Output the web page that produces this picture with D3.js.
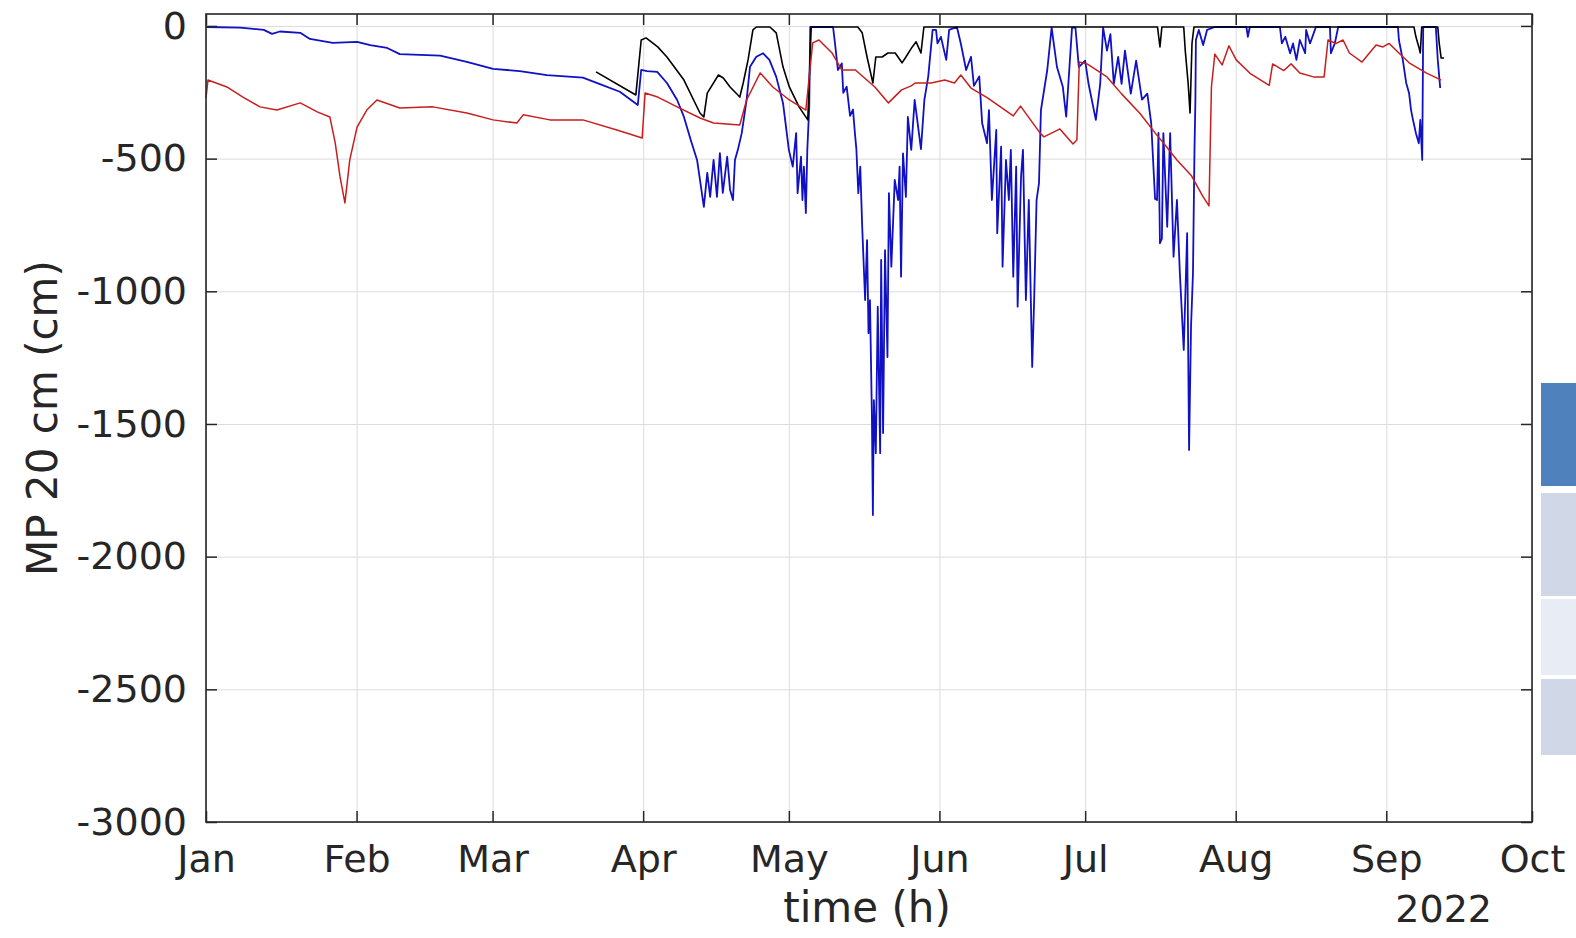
<html>
<head>
<meta charset="utf-8">
<script src="https://cdn.jsdelivr.net/npm/d3@7"></script>
<style>
body {
	margin: 0;
	background: #fff;
}
svg text {
	font-family: "DejaVu Sans", sans-serif;
	fill: #262626;
}
</style>
</head>
<body>
<svg id="chart" width="1576" height="938"></svg>

<script>
// [day of 2022 (0 = 1 Jan), MP in cm]
var bluePts = [
  [0,-4],[7.0,-6],[11.9,-15],[13.6,-30],[15.2,-21],[19.4,-26],[21.4,-49],[26.1,-64],[31.1,-60],
  [33.8,-72],[37.3,-83],[39.9,-106],[48.2,-112],[53.7,-135],[59.1,-162],[64.6,-170],[70.2,-185],
  [77.6,-195],[81.1,-219],[85.2,-248],[88.9,-298],[89.6,-166],[90.8,-170],[92.9,-173],[94.9,-215],
  [97.0,-279],[98.4,-343],[99.8,-430],[101.1,-505],[101.7,-580],[102.5,-682],[103.2,-554],[103.8,-644],
  [104.5,-505],[105.2,-644],[105.8,-479],[106.4,-629],[107.3,-493],[107.9,-618],[108.5,-656],[108.9,-505],
  [109.5,-467],[110.3,-404],[111.3,-279],[112.0,-154],[113.3,-116],[114.7,-103],[116.0,-128],[117.4,-192],
  [118.8,-291],[120.0,-467],[120.8,-530],[121.5,-404],[121.8,-630],[122.5,-493],[122.8,-656],[123.1,-530],
  [123.5,-705],[123.8,-467],[124.2,-304],[124.4,-4],[129.1,-4],[129.5,-66],[130.1,-166],[130.9,-141],
  [131.2,-252],[131.9,-229],[132.6,-339],[133.2,-315],[133.6,-404],[133.9,-464],[134.3,-630],[134.7,-530],
  [135.1,-757],[135.7,-1033],[136.1,-807],[136.4,-1158],[136.7,-1033],[137.1,-1473],[137.3,-1843],
  [137.5,-1410],[137.9,-1610],[138.3,-1058],[138.8,-1610],[139.0,-882],[139.4,-1534],[139.8,-845],
  [140.3,-1248],[140.6,-630],[141.1,-907],[141.8,-580],[142.5,-656],[142.8,-530],[143.1,-945],[143.5,-480],
  [144.1,-644],[144.5,-343],[145.2,-467],[145.9,-279],[147.2,-464],[147.9,-279],[148.7,-190],[149.6,-15],
  [150.3,-15],[150.6,-66],[151.3,-41],[152.4,-128],[153.0,-15],[154.6,-4],[155.4,-66],[156.5,-166],
  [157.5,-116],[158.1,-226],[159.2,-190],[159.8,-367],[160.8,-442],[161.2,-317],[161.8,-656],[162.7,-392],
  [162.9,-781],[163.7,-455],[164.0,-907],[164.7,-505],[165.3,-656],[165.7,-467],[166.2,-945],[166.8,-530],
  [167.1,-1058],[167.8,-568],[168.2,-467],[168.8,-1033],[169.4,-656],[170.1,-1285],[170.5,-1033],
  [171.0,-656],[171.5,-592],[171.9,-317],[173.2,-166],[174.1,-6],[175.2,-155],[176.4,-229],[177.1,-342],
  [178.3,-6],[179.0,-6],[179.7,-155],[181.0,-131],[181.7,-218],[183.2,-354],[184.1,-218],[184.7,-6],
  [185.5,-93],[186.2,-31],[186.9,-218],[187.8,-117],[188.5,-218],[189.2,-93],[190.4,-255],[191.5,-131],
  [192.7,-278],[193.8,-255],[194.6,-366],[195.4,-652],[195.8,-656],[196.1,-403],[196.4,-819],[196.8,-802],
  [197.1,-404],[197.9,-757],[198.5,-404],[199.2,-870],[199.9,-656],[200.5,-932],[201.3,-1221],[202.0,-781],
  [202.4,-1598],[202.8,-1134],[203.2,-932],[203.5,-480],[203.7,-279],[203.8,-53],[204.4,-15],[205.3,-72],
  [206.1,-15],[207.7,-4],[214.2,-4],[214.5,-41],[214.9,-4],[221.1,-4],[221.5,-66],[222.2,-41],[223.2,-103],
  [223.8,-66],[224.5,-128],[225.2,-53],[226.3,-103],[226.5,-15],[227.3,-66],[228.3,-15],[228.5,-4],
  [231.4,-4],[231.6,-103],[232.4,-66],[233.1,-4],[245.4,-4],[245.6,-53],[246.4,-128],[247.1,-215],
  [247.7,-254],[248.1,-317],[248.5,-354],[249.1,-404],[249.7,-442],[250.0,-354],[250.4,-505],[250.6,-4],
  [253.2,-4],[253.6,-128],[254.1,-234]
];

var blackPts = [
  [80.3,-173],[88.5,-260],[89.2,-128],[89.6,-53],[90.6,-45],[93.0,-79],[94.9,-117],[98.4,-204],
  [101.7,-328],[102.5,-343],[103.2,-253],[105.5,-185],[106.5,-196],[107.9,-230],[109.9,-268],[110.6,-215],
  [111.6,-128],[112.6,-15],[113.3,-4],[116.1,-4],[117.4,-26],[118.8,-155],[120.1,-230],[122.1,-305],
  [123.9,-354],[124.6,-4],[134.2,-4],[135.1,-26],[136.1,-117],[137.3,-215],[137.9,-117],[139.2,-117],
  [140.4,-102],[141.9,-102],[143.3,-139],[144.1,-117],[145.4,-79],[146.2,-60],[147.2,-102],[147.8,-4],
  [195.9,-4],[196.4,-79],[196.8,-4],[201.3,-4],[201.6,-90],[202.2,-215],[202.6,-328],[203.0,-66],
  [203.4,-4],[248.7,-4],[249.1,-41],[249.7,-79],[250.0,-102],[250.3,-4],[253.6,-4],[253.9,-66],
  [254.3,-121],[254.9,-121]
];

var redPts = [
  [0,-271],[0.4,-204],[4.3,-230],[7.6,-268],[11.1,-305],[14.6,-317],[19.4,-290],[22.9,-324],[25.5,-343],
  [26.6,-441],[27.6,-569],[28.6,-667],[29.6,-505],[31.1,-381],[33.1,-317],[35.2,-279],[39.9,-309],
  [46.7,-305],[53.7,-328],[59.1,-354],[64.0,-366],[65.3,-335],[70.8,-354],[77.6,-354],[84.6,-392],
  [89.8,-422],[90.4,-253],[93.0,-268],[97.0,-305],[101.7,-347],[104.5,-366],[109.9,-373],[111.3,-279],
  [114.1,-177],[116.7,-230],[120.1,-279],[123.5,-317],[124.9,-64],[126.2,-53],[128.9,-102],[130.9,-166],
  [133.7,-166],[137.7,-230],[140.5,-290],[143.2,-241],[145.2,-226],[146.0,-215],[149.3,-215],[152.1,-204],
  [154.1,-215],[155.4,-185],[157.5,-234],[160.9,-271],[166.2,-339],[167.7,-302],[171.7,-403],[172.5,-418],
  [174.5,-400],[175.8,-388],[178.5,-445],[179.3,-430],[179.8,-136],[181.4,-143],[185.5,-192],[188.5,-256],
  [192.3,-330],[195.4,-403],[197.7,-454],[199.9,-505],[202.9,-565],[205.2,-641],[206.5,-678],[207.0,-230],
  [207.7,-106],[209.2,-147],[210.6,-75],[212.1,-128],[215.1,-181],[218.9,-224],[219.6,-143],[221.9,-168],
  [223.4,-143],[225.2,-177],[228.0,-192],[230.2,-192],[231.0,-53],[232.7,-66],[234.1,-53],[235.4,-102],
  [238.0,-136],[240.9,-72],[242.3,-79],[243.6,-66],[245.6,-102],[247.7,-139],[251.2,-177],[254.3,-204]
];

var yTicks = [0,-500,-1000,-1500,-2000,-2500,-3000];
var xLabel = "time (h)";
var yLabel = "MP 20 cm (cm)";
var yearLabel = "2022";
// cut-off panel at the right edge
var sideColors = ["#4f81bd","#d0d8e8","#e8ecf4","#d0d8e8"];
var sideBounds = [[383,486],[493,596],[599,675],[679,755]];

var svg = d3.select("#chart"),
    margin = {top: 14, left: 206, bottom: 116, right: 44},
    width = +svg.attr("width") - margin.left - margin.right,
    height = +svg.attr("height") - margin.top - margin.bottom;

var t0 = new Date(2022,0,1);
function toDate(d){ return d3.timeMinute.offset(t0, Math.round(d*1440)); }

var x = d3.scaleTime()
    .domain([t0, new Date(2022,9,1)])
    .range([0, width]);
var y = d3.scaleLinear()
    .domain([-3000, 45])
    .range([height, 0]);

var g = svg.append("g")
    .attr("transform", `translate(${margin.left},${margin.top})`);

// grid
g.append("g")
    .attr("class","grid")
    .attr("transform",`translate(0,${height})`)
    .call(d3.axisBottom(x).ticks(d3.timeMonth.every(1)).tickSize(-height).tickFormat(""));
g.append("g")
    .attr("class","grid")
    .call(d3.axisLeft(y).tickValues(yTicks).tickSize(-width).tickFormat(""));
g.selectAll(".grid line").attr("stroke","#dcdcdc").attr("stroke-width",1);
g.selectAll(".grid path").remove();

// data lines
var line = d3.line()
    .x(function(d){ return x(toDate(d[0])); })
    .y(function(d){ return y(d[1]); });

g.append("path").datum(bluePts)
    .attr("d", line).attr("fill","none")
    .attr("stroke","#1010c4").attr("stroke-width",1.8).attr("stroke-linejoin","round");
g.append("path").datum(blackPts)
    .attr("d", line).attr("fill","none")
    .attr("stroke","#000").attr("stroke-width",1.6).attr("stroke-linejoin","round");
g.append("path").datum(redPts)
    .attr("d", line).attr("fill","none")
    .attr("stroke","#c81e1e").attr("stroke-width",1.5).attr("stroke-linejoin","round");

// axes, ticks pointing inward
var xb = g.append("g").attr("class","ax")
    .attr("transform",`translate(0,${height})`)
    .call(d3.axisBottom(x).ticks(d3.timeMonth.every(1))
        .tickFormat(d3.timeFormat("%b")).tickSize(-11).tickPadding(23));
var xt = g.append("g").attr("class","ax")
    .call(d3.axisTop(x).ticks(d3.timeMonth.every(1)).tickFormat("").tickSize(-11));
var yl = g.append("g").attr("class","ax")
    .call(d3.axisLeft(y).tickValues(yTicks).tickFormat(function(d){ return String(d); })
        .tickSize(-11).tickPadding(19));
var yr = g.append("g").attr("class","ax")
    .attr("transform",`translate(${width},0)`)
    .call(d3.axisRight(y).tickValues(yTicks).tickFormat("").tickSize(-11));

g.selectAll(".ax path").remove();
g.selectAll(".ax line").attr("stroke","#262626").attr("stroke-width",1.5);
g.selectAll(".ax text").attr("font-size",38).attr("fill","#262626")
    .style("font-family","'DejaVu Sans', sans-serif");

g.append("rect")
    .attr("width",width).attr("height",height)
    .attr("fill","none").attr("stroke","#262626").attr("stroke-width",1.6);

// labels
svg.append("text")
    .attr("x", margin.left + width/2 - 2)
    .attr("y", 922)
    .attr("text-anchor","middle")
    .attr("font-size",42)
    .text(xLabel);
svg.append("text")
    .attr("x", 1492)
    .attr("y", 922)
    .attr("text-anchor","end")
    .attr("font-size",38)
    .text(yearLabel);
svg.append("text")
    .attr("transform",`translate(57,${margin.top + height/2}) rotate(-90)`)
    .attr("text-anchor","middle")
    .attr("font-size",42)
    .text(yLabel);

svg.selectAll(".side")
    .data(sideColors)
    .enter().append("rect")
    .attr("class","side")
    .attr("x",1541)
    .attr("y",function(d,i){ return sideBounds[i][0]; })
    .attr("width",35)
    .attr("height",function(d,i){ return sideBounds[i][1]-sideBounds[i][0]; })
    .attr("fill",function(d){ return d; });
</script>
</body>
</html>
